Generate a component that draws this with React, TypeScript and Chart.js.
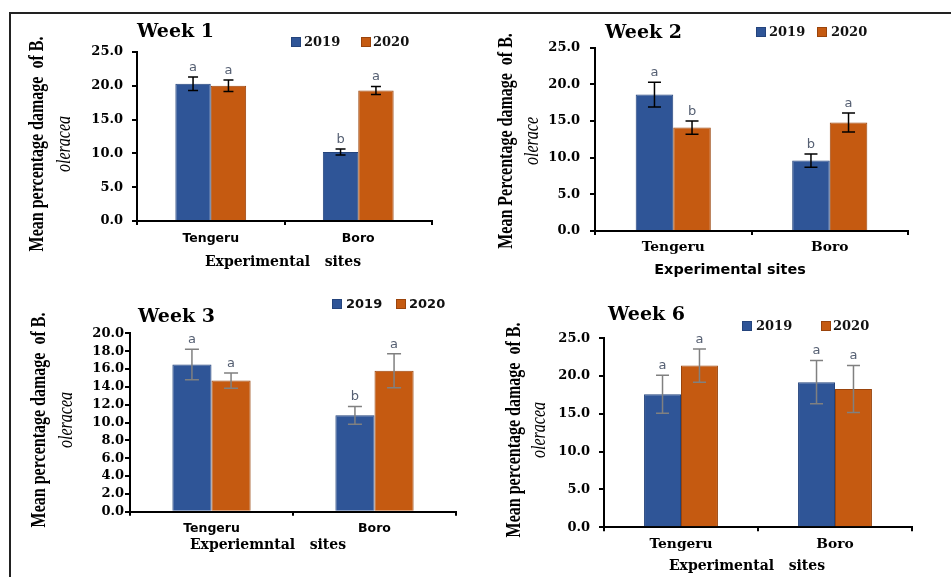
import React, { useEffect, useRef } from 'react';
import { Chart, registerables } from 'chart.js';

Chart.register(...registerables);

// ---------------- DATA ----------------
const sites = ['Tengeru', 'Boro'];
const seriesNames = ['2019', '2020'];

const week1Values2019 = [20.3, 10.2];
const week1Errors2019 = [1.0, 0.45];
const week1Letters2019 = ['a', 'b'];
const week1Values2020 = [20.0, 19.3];
const week1Errors2020 = [0.85, 0.6];
const week1Letters2020 = ['a', 'a'];

const week2Values2019 = [18.6, 9.6];
const week2Errors2019 = [1.7, 0.9];
const week2Letters2019 = ['a', 'b'];
const week2Values2020 = [14.1, 14.8];
const week2Errors2020 = [0.9, 1.3];
const week2Letters2020 = ['b', 'a'];

const week3Values2019 = [16.5, 10.8];
const week3Errors2019 = [1.7, 1.0];
const week3Letters2019 = ['a', 'b'];
const week3Values2020 = [14.7, 15.8];
const week3Errors2020 = [0.85, 1.9];
const week3Letters2020 = ['a', 'a'];

const week6Values2019 = [17.6, 19.2];
const week6Errors2019 = [2.5, 2.85];
const week6Letters2019 = ['a', 'a'];
const week6Values2020 = [21.4, 18.3];
const week6Errors2020 = [2.2, 3.1];
const week6Letters2020 = ['a', 'a'];

const yMaxA = 25;
const yStepA = 5;
const yMaxB = 20;
const yStepB = 2;

// ---------------- STYLE ----------------
const BLUE = '#2F5597';
const BLUE_BORDER = '#24447c';
const ORANGE = '#C55A11';
const ORANGE_BORDER = '#9a440c';
const LETTER = '#566073';
const SERIF_B = '"DejaVu Serif"';
const SANS_B = '"DejaVu Sans"';
const TIMES = '"Liberation Serif"';

type Series = { values: number[]; errors: number[]; letters: string[] };

type Spec = {
  title: string;
  yMax: number;
  yStep: number;
  series: Series[];
  canvas: { x: number; y: number; w: number; h: number };
  area: { l: number; t: number; r: number; b: number };
  titlePos: { x: number; y: number };
  legend: { sq: number; tx: number }[];
  legendY: number;
  legendFont: string;
  yTitle: { x1: number; x2: number; y: number; line1: string; line2: string };
  tickPad: number;
  xLabelFont: string;
  xLabelSize: number;
  xLabelPad: number;
  xTitle: { x: number; y: number; text: string; font: string };
  errColor: string;
  cap: number;
};

const Y_AXIS_W = 60;
const X_AXIS_H = 30;

function makeDecor(p: Spec) {
  const ox = p.canvas.x;
  const oy = p.canvas.y;
  return {
    id: 'decor',
    afterDatasetsDraw(chart: any) {
      const ctx = chart.ctx;
      const ys = chart.scales.y;
      p.series.forEach((s, di) => {
        const meta = chart.getDatasetMeta(di);
        meta.data.forEach((bar: any, i: number) => {
          const v = s.values[i];
          const e = s.errors[i];
          const x = bar.x;
          const yTop = ys.getPixelForValue(v + e);
          const yBot = ys.getPixelForValue(v - e);
          ctx.save();
          ctx.strokeStyle = p.errColor;
          ctx.lineWidth = 1.5;
          ctx.beginPath();
          ctx.moveTo(x, yTop);
          ctx.lineTo(x, yBot);
          ctx.moveTo(x - p.cap / 2, yTop);
          ctx.lineTo(x + p.cap / 2, yTop);
          ctx.moveTo(x - p.cap / 2, yBot);
          ctx.lineTo(x + p.cap / 2, yBot);
          ctx.stroke();
          ctx.fillStyle = LETTER;
          ctx.font = `13px ${SANS_B}`;
          ctx.textAlign = 'center';
          ctx.textBaseline = 'bottom';
          ctx.fillText(s.letters[i], x, yTop - 3);
          ctx.restore();
        });
      });
    },
    afterDraw(chart: any) {
      const ctx = chart.ctx;
      ctx.save();
      // title
      ctx.fillStyle = '#000';
      ctx.font = `bold 19px ${SERIF_B}`;
      ctx.textAlign = 'left';
      ctx.textBaseline = 'middle';
      ctx.fillText(p.title, p.titlePos.x - ox, p.titlePos.y - oy);
      // legend
      const colors = [BLUE, ORANGE];
      const borders = [BLUE_BORDER, ORANGE_BORDER];
      p.legend.forEach((it, i) => {
        ctx.fillStyle = colors[i];
        ctx.fillRect(it.sq - ox, p.legendY - oy - 5, 10, 10);
        ctx.strokeStyle = borders[i];
        ctx.lineWidth = 1;
        ctx.strokeRect(it.sq - ox + 0.5, p.legendY - oy - 4.5, 9, 9);
        ctx.fillStyle = '#111';
        ctx.font = `bold 13px ${p.legendFont}`;
        ctx.textAlign = 'left';
        ctx.textBaseline = 'middle';
        ctx.fillText(seriesNames[i], it.tx - ox, p.legendY - oy + 1);
      });
      // y title (rotated, stretched across)
      const yt = p.yTitle;
      ctx.fillStyle = '#000';
      ctx.save();
      ctx.translate(yt.x1 - ox, yt.y - oy);
      ctx.rotate(-Math.PI / 2);
      ctx.scale(1, 1.3);
      ctx.font = `bold 16px ${TIMES}`;
      ctx.textAlign = 'center';
      ctx.textBaseline = 'middle';
      ctx.fillText(yt.line1, 0, 0);
      ctx.restore();
      ctx.save();
      ctx.translate(yt.x2 - ox, yt.y - oy);
      ctx.rotate(-Math.PI / 2);
      ctx.scale(1, 1.3);
      ctx.font = `italic 16px ${TIMES}`;
      ctx.textAlign = 'center';
      ctx.textBaseline = 'middle';
      ctx.fillText(yt.line2, 0, 0);
      ctx.restore();
      // x title
      ctx.font = p.xTitle.font;
      ctx.textAlign = 'center';
      ctx.textBaseline = 'middle';
      ctx.fillText(p.xTitle.text, p.xTitle.x - ox, p.xTitle.y - oy);
      ctx.restore();
    },
  };
}

function Panel({ spec }: { spec: Spec }) {
  const ref = useRef<HTMLCanvasElement>(null);
  useEffect(() => {
    const p = spec;
    const padLeft = p.area.l - p.canvas.x - Y_AXIS_W;
    const padTop = p.area.t - p.canvas.y;
    const padRight = p.canvas.x + p.canvas.w - p.area.r;
    const padBottom = p.canvas.y + p.canvas.h - p.area.b - X_AXIS_H;
    const chart = new Chart(ref.current as HTMLCanvasElement, {
      type: 'bar',
      data: {
        labels: sites,
        datasets: p.series.map((s, i) => ({
          label: seriesNames[i],
          data: s.values,
          backgroundColor: i === 0 ? BLUE : ORANGE,
          borderColor: i === 0 ? BLUE_BORDER : ORANGE_BORDER,
          borderWidth: 1,
          barPercentage: 1,
          categoryPercentage: 0.48,
        })),
      },
      options: {
        responsive: false,
        animation: false,
        devicePixelRatio: 1,
        layout: { padding: { left: padLeft, top: padTop, right: padRight, bottom: padBottom } },
        plugins: { legend: { display: false }, title: { display: false }, tooltip: { enabled: false } },
        scales: {
          x: {
            offset: true,
            grid: { offset: true, drawOnChartArea: false, drawTicks: true, tickLength: 4, color: '#000', lineWidth: 2 },
            border: { display: true, color: '#000', width: 2 },
            ticks: {
              color: '#000',
              padding: p.xLabelPad,
              font: { family: p.xLabelFont, size: p.xLabelSize, weight: 'bold' },
            },
            afterFit: (s: any) => {
              s.height = X_AXIS_H;
            },
          },
          y: {
            min: 0,
            max: p.yMax,
            grid: { drawOnChartArea: false, drawTicks: true, tickLength: 5, color: '#000', lineWidth: 2 },
            border: { display: true, color: '#000', width: 2 },
            ticks: {
              stepSize: p.yStep,
              autoSkip: false,
              color: '#000',
              padding: p.tickPad,
              font: { family: SERIF_B, size: 13, weight: 'bold' },
              callback: (v: any) => Number(v).toFixed(1),
            },
            afterFit: (s: any) => {
              s.width = Y_AXIS_W;
            },
          },
        },
      },
      plugins: [makeDecor(p) as any],
    });
    return () => chart.destroy();
  }, [spec]);
  return (
    <canvas
      ref={ref}
      width={spec.canvas.w}
      height={spec.canvas.h}
      style={{ position: 'absolute', left: spec.canvas.x, top: spec.canvas.y, width: spec.canvas.w, height: spec.canvas.h }}
    />
  );
}

const specs: Spec[] = [
  {
    title: 'Week 1',
    yMax: yMaxA,
    yStep: yStepA,
    series: [
      { values: week1Values2019, errors: week1Errors2019, letters: week1Letters2019 },
      { values: week1Values2020, errors: week1Errors2020, letters: week1Letters2020 },
    ],
    canvas: { x: 12, y: 14, w: 468, h: 276 },
    area: { l: 137, t: 52, r: 432, b: 221 },
    titlePos: { x: 137, y: 32 },
    legend: [{ sq: 291, tx: 304 }, { sq: 361, tx: 373 }],
    legendY: 42,
    legendFont: SERIF_B,
    yTitle: { x1: 38, x2: 65, y: 144, line1: 'Mean percentage damage  of B.', line2: 'oleracea' },
    tickPad: 9,
    xLabelFont: SANS_B,
    xLabelSize: 12.5,
    xLabelPad: 6,
    xTitle: { x: 283, y: 262, text: 'Experimental   sites', font: `bold 14px ${SERIF_B}` },
    errColor: '#000',
    cap: 10,
  },
  {
    title: 'Week 2',
    yMax: yMaxA,
    yStep: yStepA,
    series: [
      { values: week2Values2019, errors: week2Errors2019, letters: week2Letters2019 },
      { values: week2Values2020, errors: week2Errors2020, letters: week2Letters2020 },
    ],
    canvas: { x: 480, y: 14, w: 471, h: 276 },
    area: { l: 595, t: 47.7, r: 908, b: 231 },
    titlePos: { x: 605, y: 33 },
    legend: [{ sq: 756, tx: 769 }, { sq: 817, tx: 831 }],
    legendY: 32,
    legendFont: SERIF_B,
    yTitle: { x1: 507, x2: 533, y: 141, line1: 'Mean Percentage damage  of B.', line2: 'olerace' },
    tickPad: 10,
    xLabelFont: SERIF_B,
    xLabelSize: 13.8,
    xLabelPad: 4.5,
    xTitle: { x: 730, y: 270, text: 'Experimental sites', font: `bold 14.4px ${SANS_B}` },
    errColor: '#000',
    cap: 13,
  },
  {
    title: 'Week 3',
    yMax: yMaxB,
    yStep: yStepB,
    series: [
      { values: week3Values2019, errors: week3Errors2019, letters: week3Letters2019 },
      { values: week3Values2020, errors: week3Errors2020, letters: week3Letters2020 },
    ],
    canvas: { x: 12, y: 290, w: 468, h: 287 },
    area: { l: 130, t: 333.3, r: 456, b: 511.7 },
    titlePos: { x: 138, y: 317 },
    legend: [{ sq: 332, tx: 346 }, { sq: 396, tx: 409 }],
    legendY: 304,
    legendFont: SANS_B,
    yTitle: { x1: 40, x2: 67, y: 420, line1: 'Mean percentage damage  of B.', line2: 'oleracea' },
    tickPad: 1,
    xLabelFont: SANS_B,
    xLabelSize: 12.5,
    xLabelPad: 5.5,
    xTitle: { x: 268, y: 545, text: 'Experiemntal   sites', font: `bold 14px ${SERIF_B}` },
    errColor: '#808080',
    cap: 14,
  },
  {
    title: 'Week 6',
    yMax: yMaxA,
    yStep: yStepA,
    series: [
      { values: week6Values2019, errors: week6Errors2019, letters: week6Letters2019 },
      { values: week6Values2020, errors: week6Errors2020, letters: week6Letters2020 },
    ],
    canvas: { x: 480, y: 290, w: 471, h: 287 },
    area: { l: 604, t: 338.3, r: 912, b: 527.3 },
    titlePos: { x: 608, y: 315 },
    legend: [{ sq: 742, tx: 756 }, { sq: 821, tx: 833 }],
    legendY: 326,
    legendFont: SERIF_B,
    yTitle: { x1: 515, x2: 540, y: 430, line1: 'Mean percentage damage  of B.', line2: 'oleracea' },
    tickPad: 9,
    xLabelFont: SERIF_B,
    xLabelSize: 13.8,
    xLabelPad: 4.4,
    xTitle: { x: 747, y: 566, text: 'Experimental   sites', font: `bold 14px ${SERIF_B}` },
    errColor: '#808080',
    cap: 13,
  },
];

export default function App() {
  return (
    <div style={{ position: 'absolute', left: 0, top: 0, width: 951, height: 577, background: '#fff', overflow: 'hidden' }}>
      <div
        style={{
          position: 'absolute',
          left: 9,
          top: 12,
          width: 951,
          height: 600,
          borderTop: '2px solid #222',
          borderLeft: '2px solid #222',
        }}
      />
      {specs.map((s, i) => (
        <Panel key={i} spec={s} />
      ))}
    </div>
  );
}
